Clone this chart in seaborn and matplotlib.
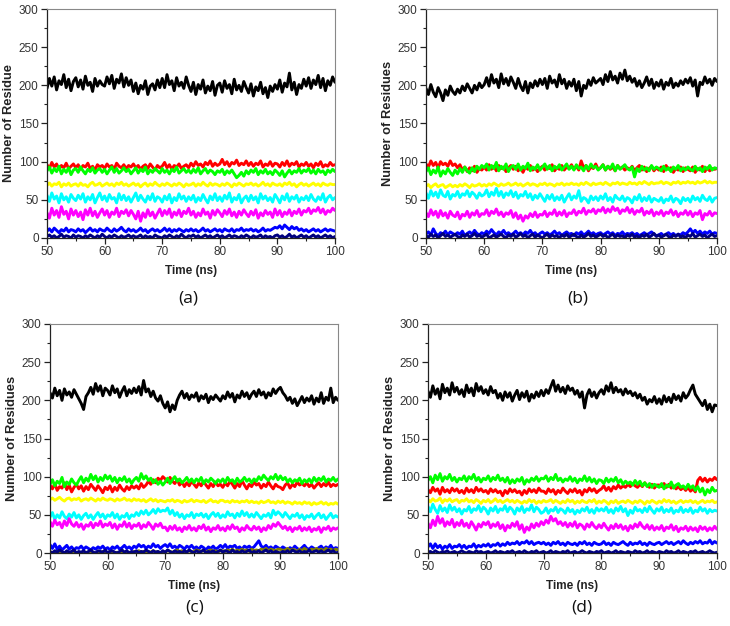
import numpy as np
import pandas as pd
import matplotlib
matplotlib.use("Agg")
import matplotlib.pyplot as plt
from matplotlib.ticker import MultipleLocator
import seaborn as sns

# ---------------- data (approximate) ----------------
x_ticks = [50, 60, 70, 80, 90, 100]
y_ticks = [0, 50, 100, 150, 200, 250, 300]
panel_labels = ["(a)", "(b)", "(c)", "(d)"]
y_titles = ["Number of Residue", "Number of Residues", "Number of Residues", "Number of Residues"]
x_title = "Time (ns)"
t_start, t_end = 50, 100

# ---- panel (a) ----
a_black = [196,209,199,211,194,206,201,214,197,208,193,205,
           210,198,207,195,212,200,204,192,209,199,206,201,
           199,211,202,213,196,208,203,215,198,210,200,207,
           192,203,189,200,195,206,188,199,202,194,207,197,
           209,197,214,201,206,193,210,199,204,196,211,200,
           192,204,188,201,195,207,190,199,193,205,187,200,
           203,191,206,196,201,189,208,194,200,192,205,197,
           190,202,186,198,193,204,189,197,184,199,192,201,
           195,207,191,203,198,216,194,204,188,201,196,208,
           199,210,196,207,201,213,197,209,193,206,200,211,204]
a_red = [96,91,99,93,97,90,95,92,98,91,94,97,
         92,96,90,95,93,98,91,94,89,96,93,95,
         91,97,93,95,90,98,94,92,96,91,95,93,
         97,92,95,90,94,96,91,97,93,89,95,92,
         94,99,92,96,90,95,93,97,91,94,96,92,
         98,94,100,95,97,93,99,96,101,94,98,95,
         97,103,96,100,94,99,97,102,95,98,96,101,
         95,99,94,98,96,101,93,97,95,100,94,98,
         97,93,99,95,101,94,98,96,100,93,97,95,
         99,94,97,92,98,95,100,93,96,94,99,95,96]
a_green = [88,93,85,91,87,94,84,90,86,92,83,89,
           91,86,93,88,84,90,87,92,85,89,91,86,
           90,84,89,93,86,91,85,88,92,87,90,84,
           88,92,85,90,87,93,84,89,86,91,88,85,
           91,86,89,84,90,87,93,85,88,91,86,89,
           85,90,86,92,84,88,91,85,89,87,83,88,
           86,90,83,88,85,89,84,79,82,86,81,88,
           84,89,86,91,83,88,85,90,84,87,83,89,
           86,82,88,80,85,89,84,88,86,91,85,89,
           87,91,85,89,84,90,86,88,83,89,86,90,87]
a_blue = [9,12,8,13,10,7,11,9,13,8,11,10,
          8,12,9,11,7,10,13,9,11,8,12,10,
          9,13,10,8,12,9,11,14,10,8,12,9,
          11,8,10,13,9,11,7,10,12,9,11,8,
          10,13,9,12,8,11,9,12,10,8,11,9,
          12,9,11,8,10,13,9,11,8,10,12,9,
          11,8,12,10,9,12,8,11,10,13,9,11,
          10,12,9,11,8,10,13,9,11,10,12,14,
          13,16,12,17,14,11,15,12,14,10,12,9,
          11,8,10,12,9,11,8,10,12,9,11,10,9]
a_cyan = [56,48,59,51,55,46,58,50,54,47,57,52,
          49,56,51,58,47,54,50,57,46,53,59,50,
          55,48,57,51,53,46,58,50,56,49,54,47,
          53,59,49,56,51,47,55,50,58,48,54,52,
          47,55,50,57,46,53,49,58,51,55,48,54,
          50,56,47,53,49,57,51,46,55,50,58,49,
          54,48,56,51,59,47,53,50,57,46,52,55,
          48,56,50,54,46,58,51,55,49,53,47,57,
          52,46,55,50,58,48,54,51,56,47,53,50,
          55,49,57,51,48,54,50,58,47,53,56,50,53]
a_magenta = [33,26,39,30,36,27,41,31,35,25,38,30,
             36,28,34,24,37,30,39,29,35,27,33,38,
             30,36,27,34,31,39,28,35,32,37,29,36,
             31,25,35,22,33,27,37,29,34,26,32,38,
             29,36,31,38,27,34,30,37,28,35,32,39,
             30,35,27,33,29,38,31,34,26,36,30,37,
             33,28,36,31,38,29,34,27,35,30,37,32,
             28,35,30,37,26,33,29,36,31,34,27,38,
             30,36,28,34,31,37,29,35,32,38,30,36,
             34,39,32,37,35,40,33,38,31,36,34,39,36]
a_yellow = [69,72,68,71,70,73,67,71,69,72,68,70,
            71,68,72,69,70,67,71,73,69,70,72,68,
            70,72,69,71,68,72,70,73,69,71,68,70,
            72,69,71,67,70,72,68,71,69,73,70,68,
            71,69,72,70,68,71,69,72,70,67,71,69,
            70,72,68,71,69,73,70,68,72,69,71,70,
            68,71,69,72,70,67,71,69,72,70,68,71,
            70,72,69,71,68,70,73,69,71,68,72,70,
            69,71,68,72,70,73,69,71,67,70,72,69,
            71,68,70,72,69,71,68,72,70,69,71,70,70]
a_navy = [2,4,1,3,0,2,5,1,3,2,0,4,
          1,3,2,0,3,1,4,2,0,3,1,5,
          2,0,3,1,4,2,0,3,1,2,4,1,
          3,1,2,4,0,3,1,2,0,4,2,1,
          0,3,1,4,2,0,3,1,5,2,0,3,
          2,4,1,3,0,2,4,1,3,0,2,4,
          1,3,0,2,4,1,3,2,0,3,1,4,
          2,0,3,1,2,4,0,3,1,2,0,3,
          4,1,3,0,2,5,1,3,0,2,4,1,
          3,0,2,4,1,3,0,2,4,1,3,0,2]

# ---- panel (b) ----
b_black = [196,188,201,191,185,197,190,180,194,187,199,192,
           188,195,190,199,193,202,196,190,200,194,203,197,
           201,210,199,214,203,208,197,215,202,209,200,211,
           204,196,209,199,193,205,190,203,197,206,199,208,
           201,209,196,212,203,207,198,214,202,208,196,205,
           199,208,193,205,186,200,196,207,200,210,203,206,
           209,201,214,205,218,207,212,203,216,208,220,206,
           212,204,209,199,206,197,203,211,200,208,196,204,
           199,207,195,204,200,209,197,203,199,206,201,208,
           203,210,199,207,186,204,201,211,203,208,200,209,205]
b_red = [97,93,101,95,99,92,100,96,98,94,101,95,
         97,92,96,89,93,87,92,88,94,86,91,89,
         93,89,96,90,94,88,95,91,93,87,92,95,
         90,94,88,92,86,93,90,95,89,92,87,91,
         94,89,93,91,96,88,92,90,95,89,93,91,
         96,90,94,89,101,92,95,88,93,91,97,90,
         92,96,89,94,90,93,88,95,91,93,89,92,
         90,94,88,92,95,89,93,87,91,94,88,92,
         89,93,87,95,90,92,86,91,89,93,87,92,
         90,88,93,86,91,89,94,87,92,88,91,90,91]
b_green = [87,92,83,89,85,93,81,88,84,91,86,82,
           89,84,91,86,93,88,85,92,87,94,90,95,
           92,97,89,95,91,99,88,94,90,97,87,93,
           95,90,97,89,94,91,98,88,93,90,96,89,
           93,97,90,95,88,94,91,96,89,93,97,90,
           94,89,96,91,93,88,95,90,97,92,94,89,
           92,96,89,94,91,97,88,95,90,93,96,91,
           89,93,80,91,87,94,89,92,88,95,90,93,
           91,88,94,89,92,87,93,90,95,88,92,89,
           93,90,88,94,89,92,87,93,90,95,89,92,91]
b_blue = [5,8,4,12,6,3,7,5,9,4,8,6,
          4,7,5,9,3,6,8,5,10,6,4,7,
          5,9,6,11,7,4,8,6,10,5,7,4,
          6,9,5,7,4,8,6,10,5,7,3,6,
          8,5,7,4,6,9,5,7,3,6,8,5,
          6,3,7,5,8,4,6,9,5,7,4,6,
          7,4,6,8,5,7,3,6,5,8,4,6,
          5,7,4,6,3,5,7,4,6,8,5,3,
          4,6,3,5,7,4,6,3,5,4,7,5,
          8,12,7,10,6,9,5,8,6,9,5,7,6]
b_cyan = [59,52,62,55,60,53,63,56,54,61,51,57,
          55,61,53,58,56,62,54,60,57,52,59,55,
          57,63,54,60,56,65,55,61,53,59,56,62,
          54,60,52,57,55,61,53,58,50,56,52,58,
          53,48,56,51,57,49,54,50,56,47,53,58,
          50,55,52,62,48,53,51,46,55,50,54,49,
          55,51,58,49,53,47,56,52,50,55,48,53,
          51,46,54,50,57,48,53,49,55,47,52,50,
          48,53,46,51,49,55,47,52,50,45,53,49,
          52,47,55,50,53,48,56,51,49,54,47,52,53]
b_magenta = [33,28,37,30,35,27,36,29,33,26,35,30,
             28,34,25,31,29,35,27,33,30,36,28,32,
             31,37,29,35,32,38,30,34,28,33,31,36,
             27,33,25,30,22,29,26,32,28,34,27,31,
             30,35,28,33,31,37,29,34,30,36,28,33,
             32,37,30,35,33,39,31,36,34,38,32,37,
             35,40,33,38,34,41,36,39,32,37,35,40,
             33,38,31,36,34,39,30,35,32,37,29,34,
             31,36,29,34,32,37,30,35,28,33,31,36,
             30,35,28,33,31,36,24,32,30,35,29,33,32]
b_yellow = [68,70,66,69,71,67,69,70,66,68,70,67,
            69,67,70,68,71,69,66,70,68,69,71,68,
            70,68,71,69,72,70,68,71,69,70,72,69,
            70,72,69,71,68,70,72,69,71,70,68,71,
            70,72,69,71,70,68,71,70,72,69,71,70,
            72,70,71,69,72,70,73,71,69,72,70,71,
            72,70,73,71,69,72,71,73,70,72,71,70,
            73,71,72,70,73,71,74,72,70,73,71,72,
            72,74,71,73,72,70,73,72,74,71,73,72,
            74,72,73,71,74,72,73,75,72,74,72,73,73]
b_navy = [3,1,5,2,4,0,3,6,2,4,1,3,
          5,2,0,4,2,5,1,3,6,2,4,1,
          3,5,0,2,4,1,3,5,2,0,4,2,
          5,1,3,6,2,4,0,3,5,1,4,2,
          0,3,5,1,4,2,3,0,4,2,5,1,
          3,5,2,0,4,1,3,6,2,4,1,3,
          5,2,4,0,3,5,1,4,2,3,0,4,
          2,5,1,3,0,4,2,5,1,3,6,2,
          4,1,3,5,2,0,4,2,5,1,3,0,
          4,2,6,1,3,5,2,4,0,3,5,2,3]

# ---- panel (c) ----
c_black = [210,203,216,206,213,200,215,207,211,204,214,208,
           202,196,188,205,210,217,208,222,212,219,206,216,
           213,207,219,210,215,204,212,218,206,214,209,216,
           210,218,207,226,211,215,205,212,203,199,206,196,
           190,198,185,194,188,200,207,212,203,209,201,207,
           204,210,199,206,202,208,197,205,201,207,203,199,
           206,202,211,204,209,198,207,203,212,205,210,202,
           208,212,205,214,207,211,203,210,206,215,209,214,
           217,210,206,200,204,196,202,193,199,205,197,203,
           199,206,195,203,198,210,196,204,200,216,197,204,200]
c_red = [89,84,91,82,87,85,92,83,89,80,86,90,
         84,88,81,87,83,90,86,82,88,84,79,86,
         83,88,80,86,82,89,84,81,87,83,88,85,
         88,84,91,86,89,94,90,96,92,98,95,100,
         97,93,99,94,91,96,89,93,87,92,88,94,
         90,86,92,88,94,89,85,91,87,93,88,90,
         86,92,88,94,90,85,91,87,95,89,84,90,
         87,93,89,91,85,90,87,93,88,84,90,87,
         86,83,89,92,85,90,87,93,89,91,88,92,
         87,90,85,89,92,87,91,88,93,87,90,88,90]
c_green = [90,96,88,94,91,99,87,93,90,97,92,89,
           95,100,92,98,94,103,96,101,93,99,95,102,
           97,101,94,99,92,98,95,100,93,97,91,96,
           99,94,104,97,101,95,98,92,96,90,94,89,
           93,98,91,96,100,94,97,92,95,99,93,97,
           92,97,94,99,91,96,93,98,95,91,96,93,
           97,92,99,94,96,91,98,93,95,99,94,97,
           92,97,94,100,96,102,98,95,100,97,103,96,
           101,96,99,93,97,92,96,94,98,91,96,93,
           97,92,99,94,98,95,100,93,97,95,99,94,97]
c_blue = [11,6,12,5,9,4,7,10,5,8,4,7,
          6,9,5,8,6,4,7,5,8,6,9,5,
          7,4,8,6,9,5,7,10,6,8,5,9,
          7,11,8,10,6,9,7,12,8,10,6,9,
          11,8,12,7,9,6,10,8,5,9,7,10,
          6,8,5,9,7,4,8,6,9,5,7,10,
          7,11,6,9,8,10,6,8,5,9,7,9,
          6,8,12,16,9,7,10,6,8,5,9,7,
          5,8,6,4,7,5,9,6,4,7,10,6,
          5,8,6,4,7,9,5,8,6,10,5,7,6]
c_cyan = [47,53,44,50,46,54,48,45,51,47,53,46,
          50,44,49,52,46,50,44,49,53,47,51,45,
          50,48,53,46,51,44,49,47,52,45,50,48,
          53,49,55,51,56,50,53,57,52,58,54,56,
          55,59,51,56,49,53,47,51,45,50,48,53,
          46,51,49,52,47,51,45,50,53,48,52,46,
          50,47,54,49,51,46,52,48,55,49,53,47,
          51,47,53,49,45,50,48,52,46,56,50,54,
          51,47,53,49,45,50,48,52,46,50,44,49,
          47,51,45,49,52,46,50,44,48,52,46,49,47]
c_magenta = [41,35,43,37,40,33,42,36,45,38,35,40,
             34,38,31,37,35,40,33,39,36,42,34,38,
             36,40,33,38,31,37,35,41,34,39,32,37,
             35,39,32,37,34,40,36,31,38,35,39,33,
             34,29,35,31,36,30,33,28,34,31,36,30,
             33,29,35,32,37,30,34,28,33,31,36,30,
             33,29,35,31,37,32,34,28,33,30,36,32,
             30,35,31,34,28,33,30,36,32,38,35,40,
             36,32,35,30,34,28,33,31,35,29,33,30,
             34,28,32,30,34,27,33,31,35,29,33,31,33]
c_yellow = [70,72,69,71,73,70,68,71,72,69,71,70,
            72,68,70,71,69,72,70,68,71,69,72,70,
            69,71,70,68,71,69,70,72,69,70,68,71,
            69,70,68,70,67,69,71,68,70,67,69,68,
            67,69,68,70,67,69,68,66,69,67,68,70,
            67,69,68,67,69,66,68,70,67,68,66,69,
            69,67,68,66,69,67,68,66,68,67,69,66,
            68,66,67,65,68,66,67,69,66,67,65,68,
            66,68,65,67,66,64,67,65,66,64,67,65,
            66,63,66,64,65,67,64,66,63,65,64,66,64]
c_olive = [0,1,0,2,0,1,0,0,1,0,2,0,
           1,0,0,1,0,2,1,0,1,0,2,1,
           0,2,1,0,1,0,2,1,0,1,0,2,
           1,3,1,2,0,2,1,3,1,2,0,1,
           1,3,2,1,2,4,2,3,1,2,3,1,
           2,4,3,2,3,1,3,4,2,3,1,3,
           3,2,4,3,5,2,4,3,5,3,4,2,
           5,3,4,3,5,4,6,3,5,4,3,5,
           5,3,4,6,3,5,4,2,5,3,6,4,
           3,5,4,6,4,5,3,6,4,5,3,5,4]
c_navy = [2,0,3,1,4,2,0,3,1,2,4,0,
          2,1,3,0,2,4,1,0,3,2,1,4,
          0,2,3,1,0,2,4,1,3,0,2,1,
          3,0,2,1,4,2,0,3,1,2,0,3,
          1,4,2,0,3,1,2,0,3,1,4,2,
          0,3,1,2,4,0,2,1,3,0,2,4,
          1,3,2,0,4,1,2,0,3,1,2,4,
          0,2,1,3,0,2,4,1,3,0,2,1,
          0,2,1,3,0,4,2,1,3,0,2,1,
          4,0,2,3,1,3,0,2,4,1,3,0,1]

# ---- panel (d) ----
d_black = [212,204,219,208,215,202,221,210,216,207,223,211,
           217,208,214,205,220,210,216,206,222,212,218,209,
           214,207,218,210,213,203,209,200,211,204,210,199,
           207,213,201,210,204,212,199,208,203,211,205,213,
           206,214,209,218,226,212,220,211,217,209,219,213,
           216,208,213,204,211,190,207,214,205,211,203,210,
           214,208,219,212,223,210,217,211,214,207,215,209,
           212,206,210,203,208,200,204,195,201,198,205,196,
           202,195,206,198,204,197,208,201,206,199,210,203,
           207,214,220,208,203,198,193,200,188,195,185,194,193]
d_red = [83,79,86,81,84,77,86,80,83,79,85,81,
         84,79,82,78,85,80,83,79,86,81,84,80,
         82,78,84,80,83,79,81,75,82,78,84,80,
         83,79,81,76,82,78,84,80,83,79,85,81,
         81,78,84,80,83,77,82,79,85,81,78,83,
         80,84,79,82,76,83,80,85,81,84,79,82,
         84,88,82,86,81,87,84,89,85,88,86,90,
         87,91,88,86,90,87,92,88,86,90,85,89,
         89,87,91,86,90,85,88,84,87,83,86,82,
         86,81,84,80,95,99,94,98,93,97,95,99,96]
d_green = [95,100,92,102,96,104,94,100,97,103,95,99,
           93,98,96,101,94,100,97,103,95,99,93,98,
           96,101,94,99,96,102,95,98,93,99,91,96,
           92,97,94,99,90,96,93,98,95,100,94,98,
           97,101,94,99,96,103,95,98,93,97,95,100,
           94,98,92,97,95,101,94,99,93,97,91,96,
           95,91,98,93,97,94,99,92,96,90,94,91,
           93,89,95,90,94,88,92,87,91,86,90,88,
           86,91,84,89,87,93,85,89,91,86,88,84,
           90,85,88,82,87,80,85,76,83,79,86,81,82]
d_blue = [8,12,6,12,7,10,5,9,7,11,6,9,
          8,11,7,10,6,9,8,12,7,10,8,11,
          9,12,8,11,10,13,9,12,10,14,11,13,
          12,15,11,14,13,16,12,15,11,13,14,12,
          14,11,13,10,14,12,15,11,13,10,14,12,
          11,13,10,14,12,15,11,13,10,14,12,11,
          12,15,11,13,10,14,12,11,13,15,12,10,
          14,11,13,12,15,11,13,10,14,12,11,13,
          14,11,13,15,12,14,11,13,15,12,16,13,
          11,14,12,15,13,16,12,14,13,17,12,15,13]
d_cyan = [61,54,64,57,52,62,55,59,53,63,56,60,
          54,58,51,57,55,61,53,58,56,62,54,60,
          57,51,59,55,61,53,58,56,62,54,60,57,
          51,59,55,61,53,58,56,63,54,60,57,52,
          54,59,52,57,55,60,53,58,56,52,59,54,
          57,51,56,53,58,55,60,53,57,52,59,55,
          58,55,60,53,57,52,59,55,61,54,58,49,
          56,52,60,55,57,53,59,54,61,56,52,58,
          55,60,53,57,54,59,52,56,54,60,53,57,
          54,59,52,56,54,60,55,58,52,57,54,56,55]
d_magenta = [39,33,43,36,48,39,45,35,41,37,44,34,
             40,36,43,35,39,33,41,36,30,38,34,40,
             37,41,33,38,35,40,32,37,29,36,33,39,
             35,41,31,37,27,34,30,38,33,39,35,41,
             37,43,39,48,42,45,38,41,36,40,34,39,
             35,41,33,38,36,31,38,34,40,35,32,37,
             33,39,34,30,36,32,38,33,37,31,35,29,
             36,32,38,34,40,35,32,37,31,36,30,34,
             31,36,29,34,32,37,30,35,28,33,31,35,
             29,34,30,33,28,35,31,34,29,33,30,35,31]
d_yellow = [70,67,71,68,69,72,66,70,68,71,67,69,
            70,66,69,68,71,67,69,66,70,68,65,69,
            67,70,66,68,71,67,69,66,68,70,67,69,
            66,69,67,65,68,66,70,67,69,65,68,66,
            69,67,68,70,66,69,67,65,68,66,70,67,
            69,65,68,66,69,67,66,69,67,70,65,68,
            66,69,67,64,68,66,69,65,67,68,66,69,
            67,65,68,66,69,67,64,68,66,69,67,65,
            68,66,70,67,69,66,68,65,67,69,66,68,
            67,69,66,68,65,67,69,66,68,67,69,66,67]
d_navy = [1,2,0,3,1,0,2,1,3,0,1,2,
          0,1,3,1,0,2,1,0,3,1,2,0,
          1,2,0,1,3,0,2,1,0,2,1,3,
          0,1,2,0,3,1,0,2,1,3,0,1,
          2,0,1,3,0,2,1,0,2,1,3,0,
          1,2,0,1,3,1,0,2,1,0,2,1,
          3,0,1,2,0,1,3,0,2,1,0,2,
          1,0,3,1,2,0,1,3,0,2,1,0,
          2,1,0,3,1,2,0,1,3,0,2,1,
          0,2,1,3,0,1,2,0,1,3,1,0,1]

series_colors = {
    "black": "#000000", "red": "#ff0000", "green": "#00ff00", "blue": "#0000ff",
    "cyan": "#00ffff", "magenta": "#ff00ff", "yellow": "#ffff00",
    "olive": "#808000", "navy": "#000080",
}

panels = [
    {"black": a_black, "red": a_red, "green": a_green, "blue": a_blue, "cyan": a_cyan,
     "magenta": a_magenta, "yellow": a_yellow, "navy": a_navy},
    {"black": b_black, "red": b_red, "green": b_green, "blue": b_blue, "cyan": b_cyan,
     "magenta": b_magenta, "yellow": b_yellow, "navy": b_navy},
    {"black": c_black, "red": c_red, "green": c_green, "blue": c_blue, "cyan": c_cyan,
     "magenta": c_magenta, "yellow": c_yellow, "olive": c_olive, "navy": c_navy},
    {"black": d_black, "red": d_red, "green": d_green, "blue": d_blue, "cyan": d_cyan,
     "magenta": d_magenta, "yellow": d_yellow, "navy": d_navy},
]

# ---------------- styling ----------------
sns.set_style("ticks")
plt.rcParams["font.family"] = ["Liberation Sans", "DejaVu Sans"]
plt.rcParams["axes.linewidth"] = 0.9

fig = plt.figure(figsize=(7.30, 6.26), dpi=100)
axes_rects = [
    [47 / 730, 1 - 238 / 626, 288 / 730, 229 / 626],
    [426 / 730, 1 - 238 / 626, 291 / 730, 229 / 626],
    [50 / 730, 1 - 553 / 626, 288 / 730, 229 / 626],
    [428 / 730, 1 - 553 / 626, 289 / 730, 229 / 626],
]
caption_pos = [(188 / 730, 1 - 298 / 626), (578 / 730, 1 - 298 / 626),
               (195 / 730, 1 - 608 / 626), (582 / 730, 1 - 608 / 626)]

for k, (rect, pdata) in enumerate(zip(axes_rects, panels)):
    ax = fig.add_axes(rect)
    rows = []
    for name, vals in pdata.items():
        tt = np.linspace(t_start, t_end, len(vals))
        rows.append(pd.DataFrame({"t": tt, "v": vals, "s": name}))
    df = pd.concat(rows, ignore_index=True)
    order = list(pdata.keys())
    sns.lineplot(data=df, x="t", y="v", hue="s", hue_order=order,
                 palette={n: series_colors[n] for n in order},
                 estimator=None, sort=False, legend=False, lw=2.1, ax=ax)
    ax.set_xlim(t_start, t_end)
    ax.set_ylim(0, 300)
    ax.set_xticks(x_ticks)
    ax.set_yticks(y_ticks)
    ax.xaxis.set_minor_locator(MultipleLocator(5))
    ax.yaxis.set_minor_locator(MultipleLocator(25))
    ax.tick_params(which="major", direction="out", length=4, width=0.9,
                   labelsize=8.5, colors="#222222", labelcolor="#333333", pad=2)
    ax.tick_params(which="minor", direction="out", length=2, width=0.8, colors="#222222")
    for side in ["top", "right"]:
        ax.spines[side].set_visible(True)
        ax.spines[side].set_color("#888888")
        ax.spines[side].set_linewidth(0.8)
    for side in ["left", "bottom"]:
        ax.spines[side].set_color("#222222")
    ax.set_xlabel(x_title, fontsize=8.5, fontweight="bold", color="#222222", labelpad=5)
    ax.set_ylabel(y_titles[k], fontsize=9.3, fontweight="bold", color="#222222", labelpad=3)
    fig.text(caption_pos[k][0], caption_pos[k][1], panel_labels[k], ha="center", va="center",
             fontsize=12.5, family=["Open Sans", "DejaVu Sans"], color="#111111")

fig.savefig("out.png", dpi=100)
